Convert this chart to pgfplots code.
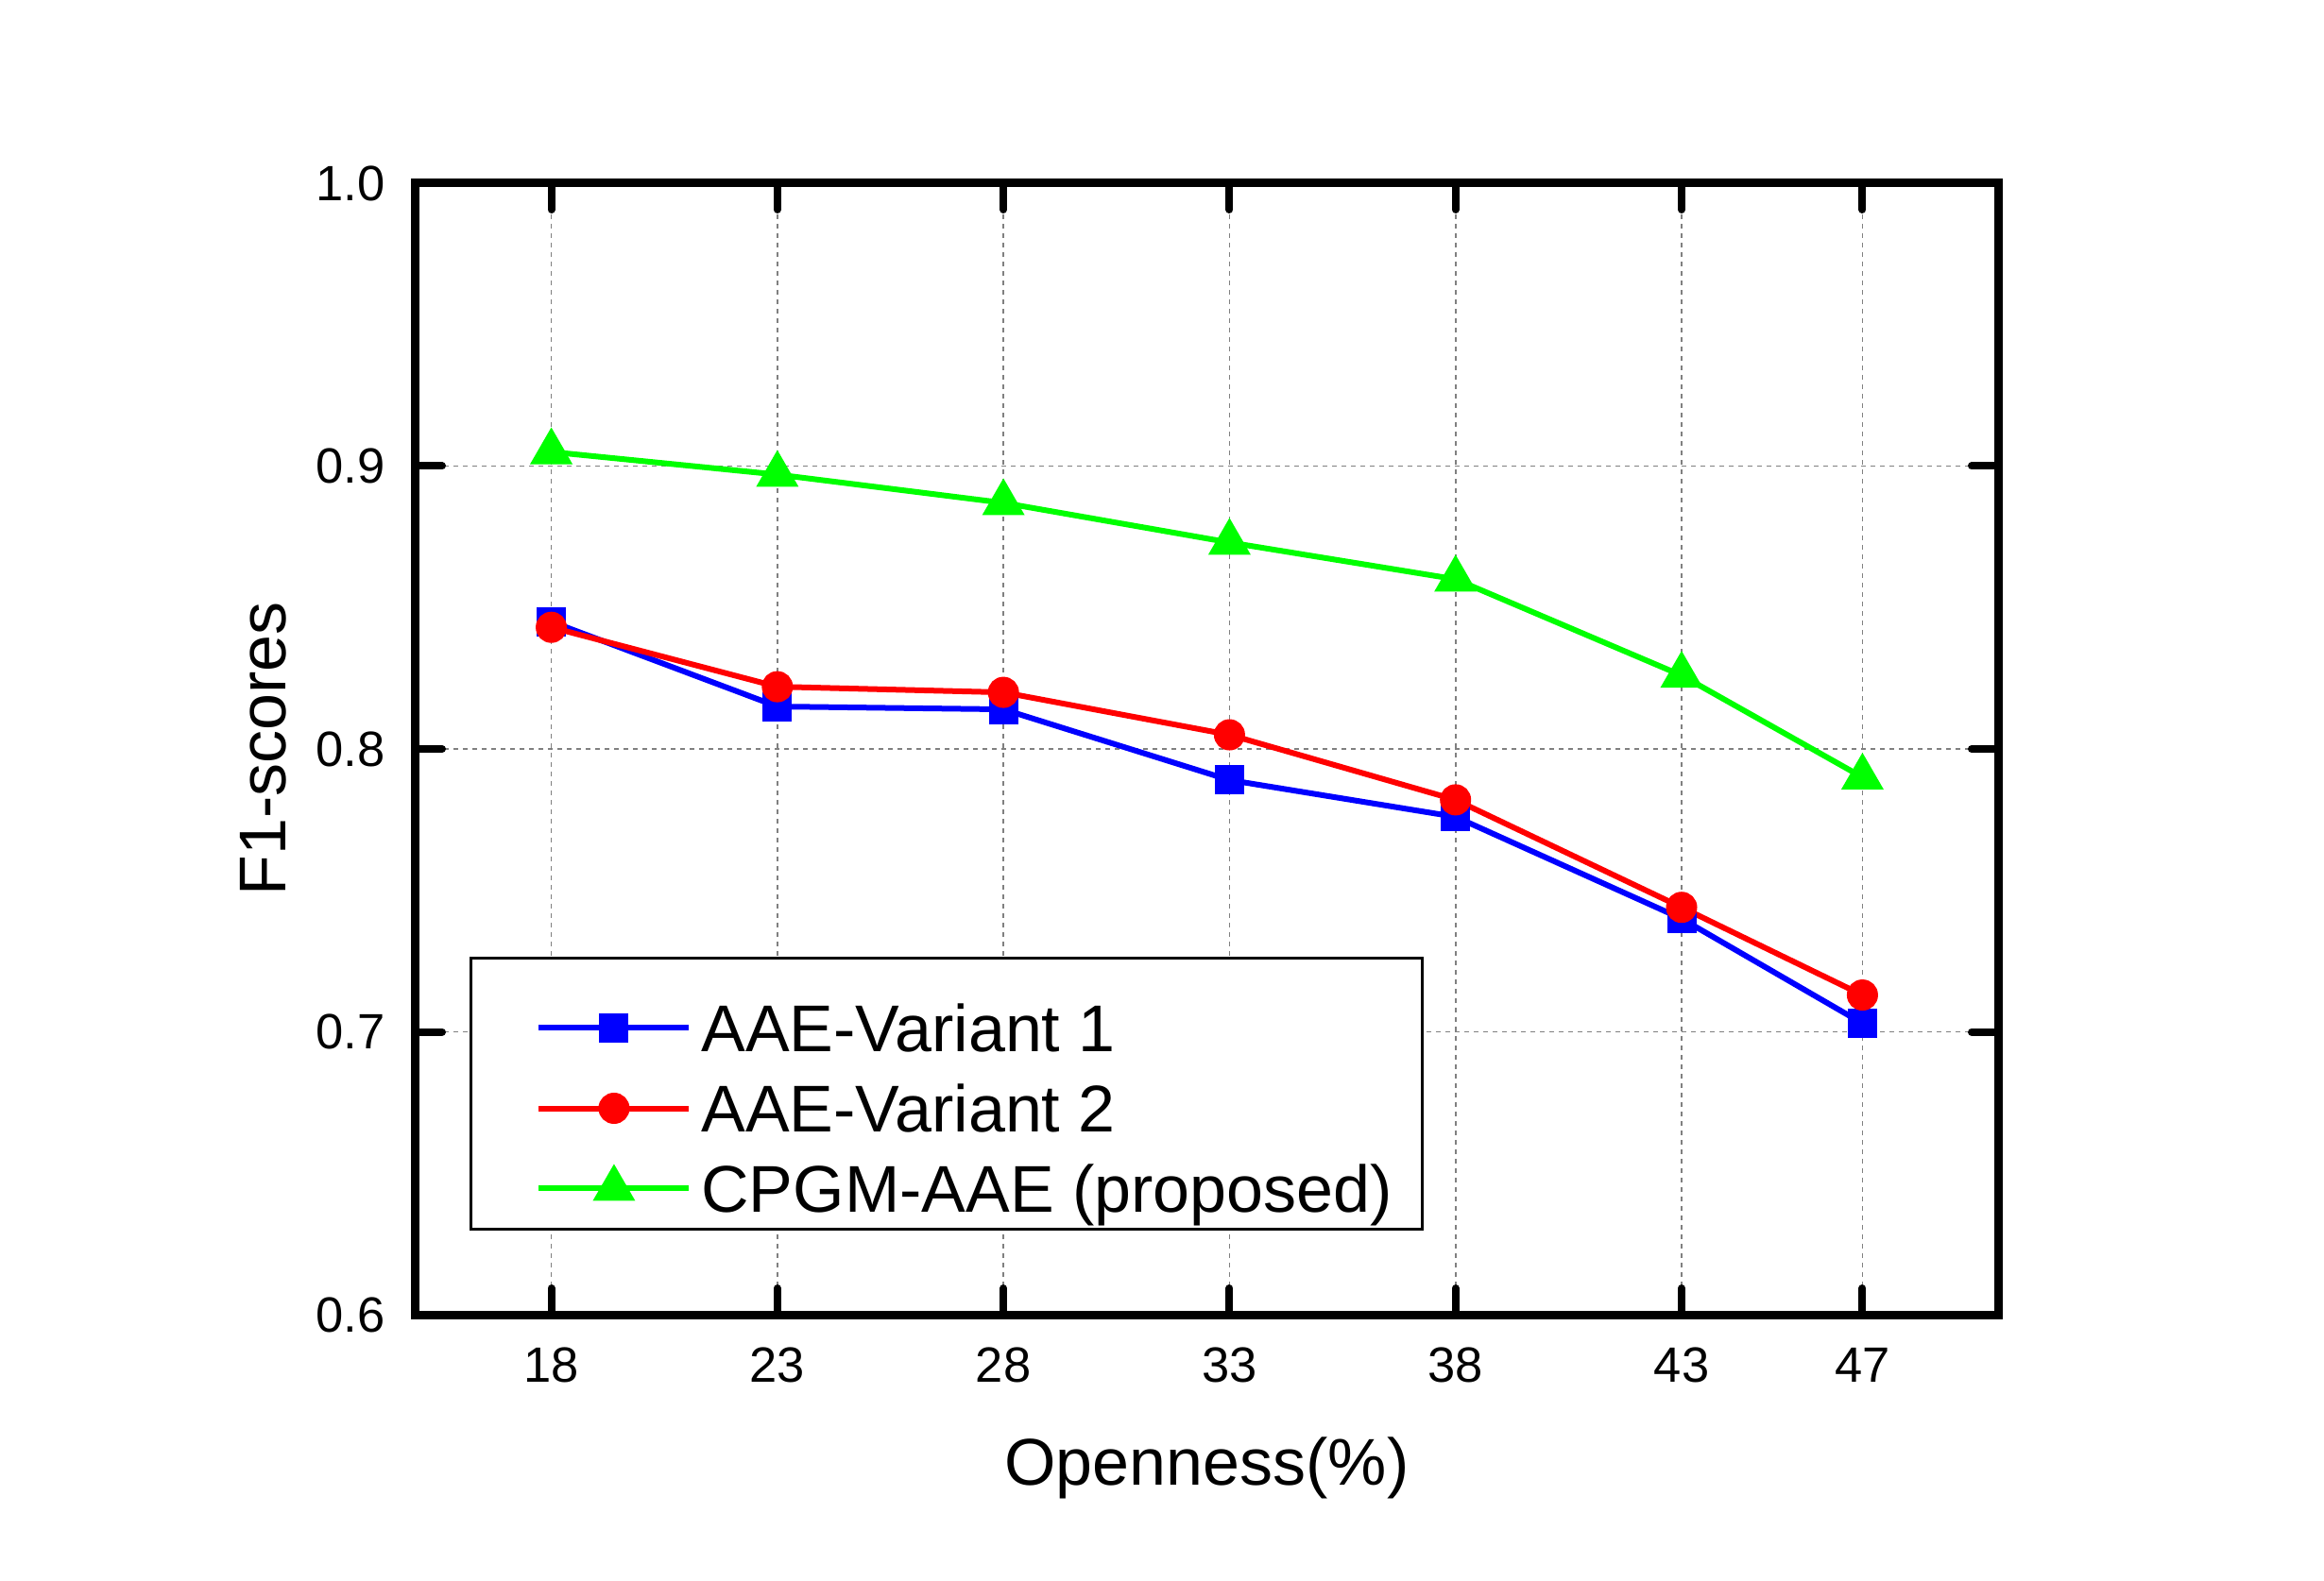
\documentclass[border=0pt]{standalone}
\usepackage{pgfplots}
\pgfplotsset{compat=1.18}
\usepackage{fontspec}
\setmainfont{Liberation Sans}
\definecolor{cblue}{RGB}{0,0,255}
\definecolor{cred}{RGB}{255,0,0}
\definecolor{cgreen}{RGB}{0,255,0}
\begin{document}
\begin{tikzpicture}
\begin{axis}[
  scale only axis, width=335pt, height=239.6pt,
  xmin=15, xmax=50, ymin=0.6, ymax=1.0,
  xtick={18,23,28,33,38,43,47},
  ytick={0.6,0.7,0.8,0.9,1.0},
  /pgf/number format/assume math mode=true,
  yticklabel style={/pgf/number format/fixed, /pgf/number format/fixed zerofill, /pgf/number format/precision=1, xshift=-3pt},
  xticklabel style={yshift=-3.5pt},
  tick label style={font=\fontsize{10.5}{12}\selectfont},
  axis line style={line width=1.8pt},
  tick style={line width=1.6pt, black, line cap=round},
  major tick length=5.6pt,
  tick align=inside,
  grid=major,
  grid style={gray, dash pattern=on 1pt off 1pt, line width=0.35pt},
  xlabel={Openness(\%)}, ylabel={F1-scores},
  every axis x label/.style={at={(axis description cs:0.5,0)}, anchor=base, yshift=-36pt, font=\fontsize{14}{16}\selectfont},
  every axis y label/.style={at={(axis description cs:0,0.5)}, anchor=base, xshift=-27.4pt, rotate=90, font=\fontsize{14}{16}\selectfont},
  legend cell align=left,
  legend style={at={(axis description cs:0.034,0.0743)}, anchor=south west,
    draw=black, line width=0.6pt, font=\fontsize{14}{16}\selectfont,
    inner xsep=6.2pt, inner ysep=3.2pt, column sep=1.8pt, row sep=0pt,
    nodes={inner sep=0.2pt, text height=16.4pt, text depth=0.2pt}},
  legend image code/.code={\path (0pt,-3.1pt);
    \draw[mark repeat=2,mark phase=2] plot coordinates {(7.6pt,-3.1pt)(23.5pt,-3.1pt)(39.4pt,-3.1pt)};},
]
\addplot[cblue, line width=1.2pt, mark=square*, mark size=2.5pt, mark options={solid, fill=cblue}] coordinates {
(18,0.845) (23,0.815) (28,0.814) (33,0.789) (38,0.776) (43,0.740) (47,0.703)};
\addlegendentry{AAE-Variant 1}
\addplot[cred, line width=1.2pt, mark=*, mark size=2.7pt, mark options={solid, fill=cred}] coordinates {
(18,0.843) (23,0.822) (28,0.820) (33,0.805) (38,0.782) (43,0.744) (47,0.713)};
\addlegendentry{AAE-Variant 2}
\addplot[cgreen, line width=1.2pt, mark=triangle*, mark size=4pt, mark options={solid, fill=cgreen}] coordinates {
(18,0.905) (23,0.897) (28,0.887) (33,0.873) (38,0.860) (43,0.826) (47,0.790)};
\addlegendentry{CPGM-AAE (proposed)}
\end{axis}
\path ([xshift=-88pt,yshift=-56.2pt]current axis.south west) rectangle ([xshift=69pt,yshift=38.8pt]current axis.north east);
\end{tikzpicture}
\end{document}
